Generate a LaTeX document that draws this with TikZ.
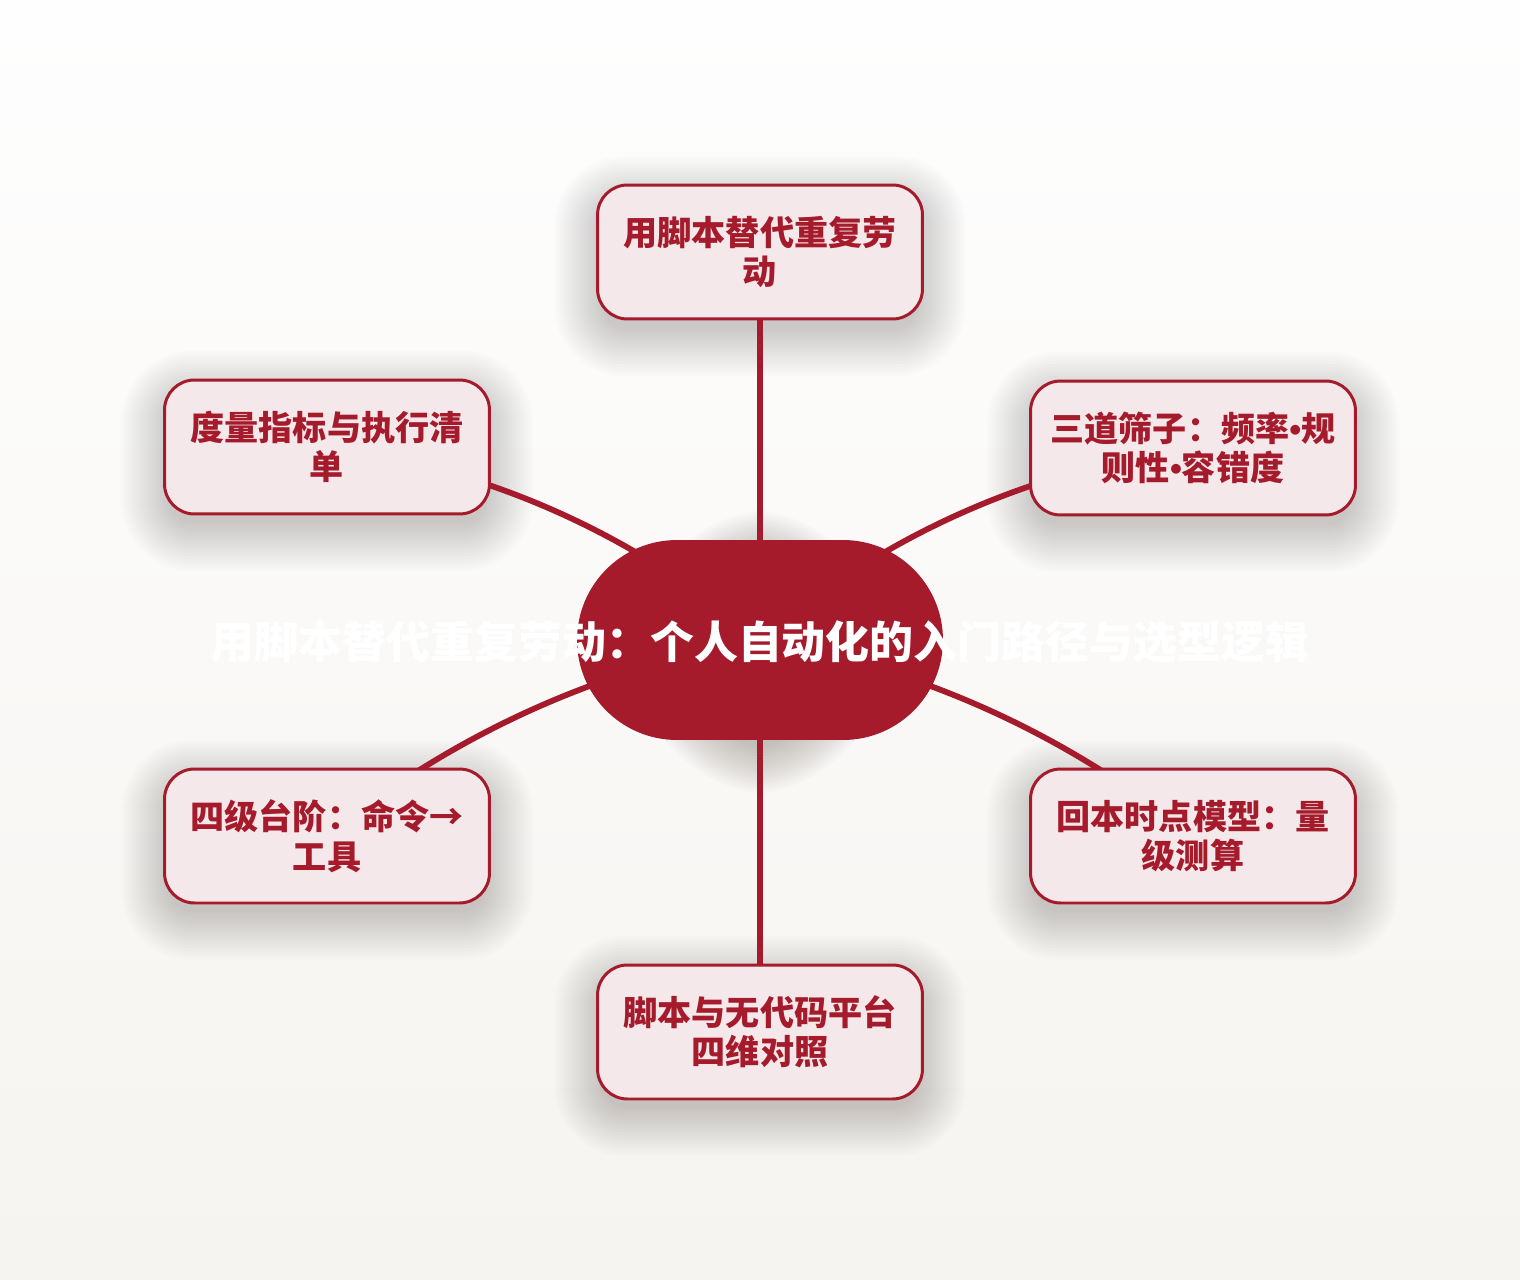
\documentclass[tikz,border=0pt]{standalone}
\usepackage{fontspec}
\setmainfont{Noto Sans CJK SC}
\newfontfamily\latinfont{Liberation Sans}
\usetikzlibrary{shapes.misc}
\definecolor{crim}{HTML}{A51B2B}
\definecolor{boxfill}{HTML}{F5E8EB}
\definecolor{bgtop}{HTML}{FEFEFE}
\definecolor{bgbot}{HTML}{F6F4F0}
\pgfdeclarelayer{bglayer}
\pgfdeclarelayer{shadowlayer}
\pgfdeclarelayer{edgelayer}
\pgfsetlayers{bglayer,shadowlayer,edgelayer,main}
\newcommand\mybul{{\latinfont •}}
\newcommand\softshadow[4]{% node, base radius px, yoffset px, opacity
  \foreach \k in {-6,-3,...,42}{%
    \pgfmathsetmacro\rr{max(#2+\k,1)*0.02}%
    \fill[black!80!brown, fill opacity=#4, rounded corners=\rr cm]
      ([shift={(-\k,-\k+#3)}]#1.north west) rectangle ([shift={(\k,\k+#3)}]#1.south east);
  }}
\tikzset{
  leaf/.style={draw=crim, line width=1.7pt, fill=boxfill, rounded corners=0.6cm,
    minimum width=6.5cm, minimum height=2.68cm, align=center, text=crim,
    font=\fontsize{19.4pt}{22.4pt}\selectfont\bfseries, inner sep=0pt},
  hubshape/.style={rounded rectangle, fill=crim, minimum width=7.32cm, minimum height=4cm, inner sep=0pt},
  hubtext/.style={text=white, font=\fontsize{25pt}{30pt}\selectfont\bfseries, inner sep=0pt},
  link/.style={draw=crim, line width=3.3pt}
}
\begin{document}
\begin{tikzpicture}[x=0.02cm, y=-0.02cm]
\begin{pgfonlayer}{bglayer}
\shade[top color=bgtop, bottom color=bgbot] (0,0) rectangle (1520,1280);
\end{pgfonlayer}
\useasboundingbox (0,0) rectangle (1520,1280);
\node[hubshape] (hub) at (760,640) {};
\node[hubtext] (hubt) at (760,642) {用脚本替代重复劳动：个人自动化的入门路径与选型逻辑};
\node[leaf] (top) at (760,252) {用脚本替代重复劳\\动};
\node[leaf] (ul) at (327,447) {度量指标与执行清\\单};
\node[leaf] (ur) at (1193,448) {三道筛子：频率\mybul 规\\则性\mybul 容错度};
\node[leaf] (ll) at (327,836) {四级台阶：命令→\\工具};
\node[leaf] (lr) at (1193,836) {回本时点模型：量\\级测算};
\node[leaf] (bot) at (760,1032) {脚本与无代码平台\\四维对照};
\begin{pgfonlayer}{shadowlayer}
\softshadow{hub}{100}{12}{0.014}
\softshadow{top}{30}{14}{0.012}
\softshadow{ul}{30}{14}{0.012}
\softshadow{ur}{30}{14}{0.012}
\softshadow{ll}{30}{14}{0.012}
\softshadow{lr}{30}{14}{0.012}
\softshadow{bot}{30}{14}{0.012}
\end{pgfonlayer}
\begin{pgfonlayer}{edgelayer}
\draw[link] (hub.center) -- (top.center);
\draw[link] (hub.center) -- (bot.center);
\draw[link] (hub.center) .. controls (634,534) and (490,469) .. (ul.center);
\draw[link] (hub.center) .. controls (886,534) and (1030,470) .. (ur.center);
\draw[link] (hub.center) .. controls (600,668) and (455,733) .. (ll.center);
\draw[link] (hub.center) .. controls (920,668) and (1065,733) .. (lr.center);
\end{pgfonlayer}
\end{tikzpicture}
\end{document}
